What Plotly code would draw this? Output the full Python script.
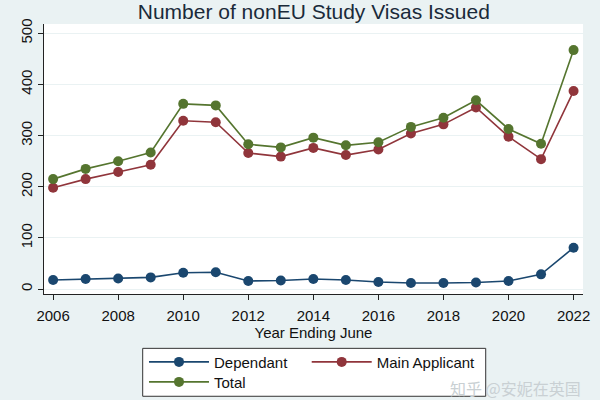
import plotly.graph_objects as go

years = list(range(2006, 2023))
dependant = [18, 20, 21, 23, 32, 33, 16, 17, 20, 18, 14, 12, 12, 13, 16, 29, 81]
main_applicant = [198, 215, 229, 243, 329, 326, 266, 259, 276, 262, 273, 304, 322, 355, 298, 254, 387]
total = [215, 235, 250, 267, 362, 359, 283, 277, 296, 281, 287, 317, 335, 369, 313, 284, 467]

y_ticks = [0, 100, 200, 300, 400, 500]
x_ticks = list(range(2006, 2023, 2))

NAVY = "#1A476F"
MAROON = "#90353B"
GREEN = "#55752F"
BG = "#EAF2F3"

fig = go.Figure()
for name, vals, col, lg in [("Dependant", dependant, NAVY, "legend"),
                            ("Main Applicant", main_applicant, MAROON, "legend2"),
                            ("Total", total, GREEN, "legend3")]:
    fig.add_trace(go.Scatter(
        x=years, y=vals, name=name, mode="lines+markers",
        line=dict(color=col, width=1.6),
        marker=dict(color=col, size=10, symbol="circle"),
        legend=lg,
    ))

leg_common = dict(orientation="h", xanchor="left", yanchor="top",
                  bgcolor="rgba(0,0,0,0)", borderwidth=0, itemwidth=60,
                  font=dict(size=15, color="#111111"))

fig.update_layout(
    width=600, height=400,
    margin=dict(l=44, r=17, t=24, b=106, autoexpand=False),
    paper_bgcolor=BG, plot_bgcolor="white",
    font=dict(family="Liberation Sans, Arial, sans-serif", size=15, color="#111111"),
    title=dict(text="Number of nonEU Study Visas Issued", x=0.523, xanchor="center",
               y=0.97, yanchor="middle",
               font=dict(size=21, color="#1a2a3a")),
    showlegend=True,
    legend=dict(x=0.1855, y=-0.1913, **leg_common),
    legend2=dict(x=0.4874, y=-0.1913, **leg_common),
    legend3=dict(x=0.1855, y=-0.2653, **leg_common),
    xaxis=dict(range=[2005.72, 2022.29], tickmode="array", tickvals=x_ticks,
               ticktext=[str(v) for v in x_ticks],
               showgrid=False, zeroline=False, showline=True, linecolor="#222222",
               linewidth=1, ticks="outside", ticklen=5, tickcolor="#222222",
               tickfont=dict(size=15), ticklabelstandoff=3,
               title=dict(text="Year Ending June", font=dict(size=15), standoff=2)),
    yaxis=dict(range=[-9.4, 518], tickmode="array", tickvals=y_ticks,
               ticktext=[str(v) for v in y_ticks], tickangle=-90,
               showgrid=True, gridcolor=BG, gridwidth=1, zeroline=False,
               showline=True, linecolor="#222222", linewidth=1,
               ticks="outside", ticklen=5, tickcolor="#222222",
               tickfont=dict(size=15)),
)

# legend frame
fig.add_shape(type="rect", xref="paper", yref="paper",
              x0=0.1831, x1=0.8195, y0=-0.3788, y1=-0.2013,
              fillcolor="white", line=dict(color="#333333", width=1), layer="above")

fig.add_annotation(text="知乎 @安妮在英国", xref="paper", yref="paper",
                   x=1.0, y=-0.3485, xanchor="right", yanchor="middle", showarrow=False,
                   font=dict(family="Noto Sans CJK SC", size=16, color="#c9d0d3"))

fig.write_html("out.html", config={"displayModeBar": False},
               post_script="document.body.style.margin='0';")
